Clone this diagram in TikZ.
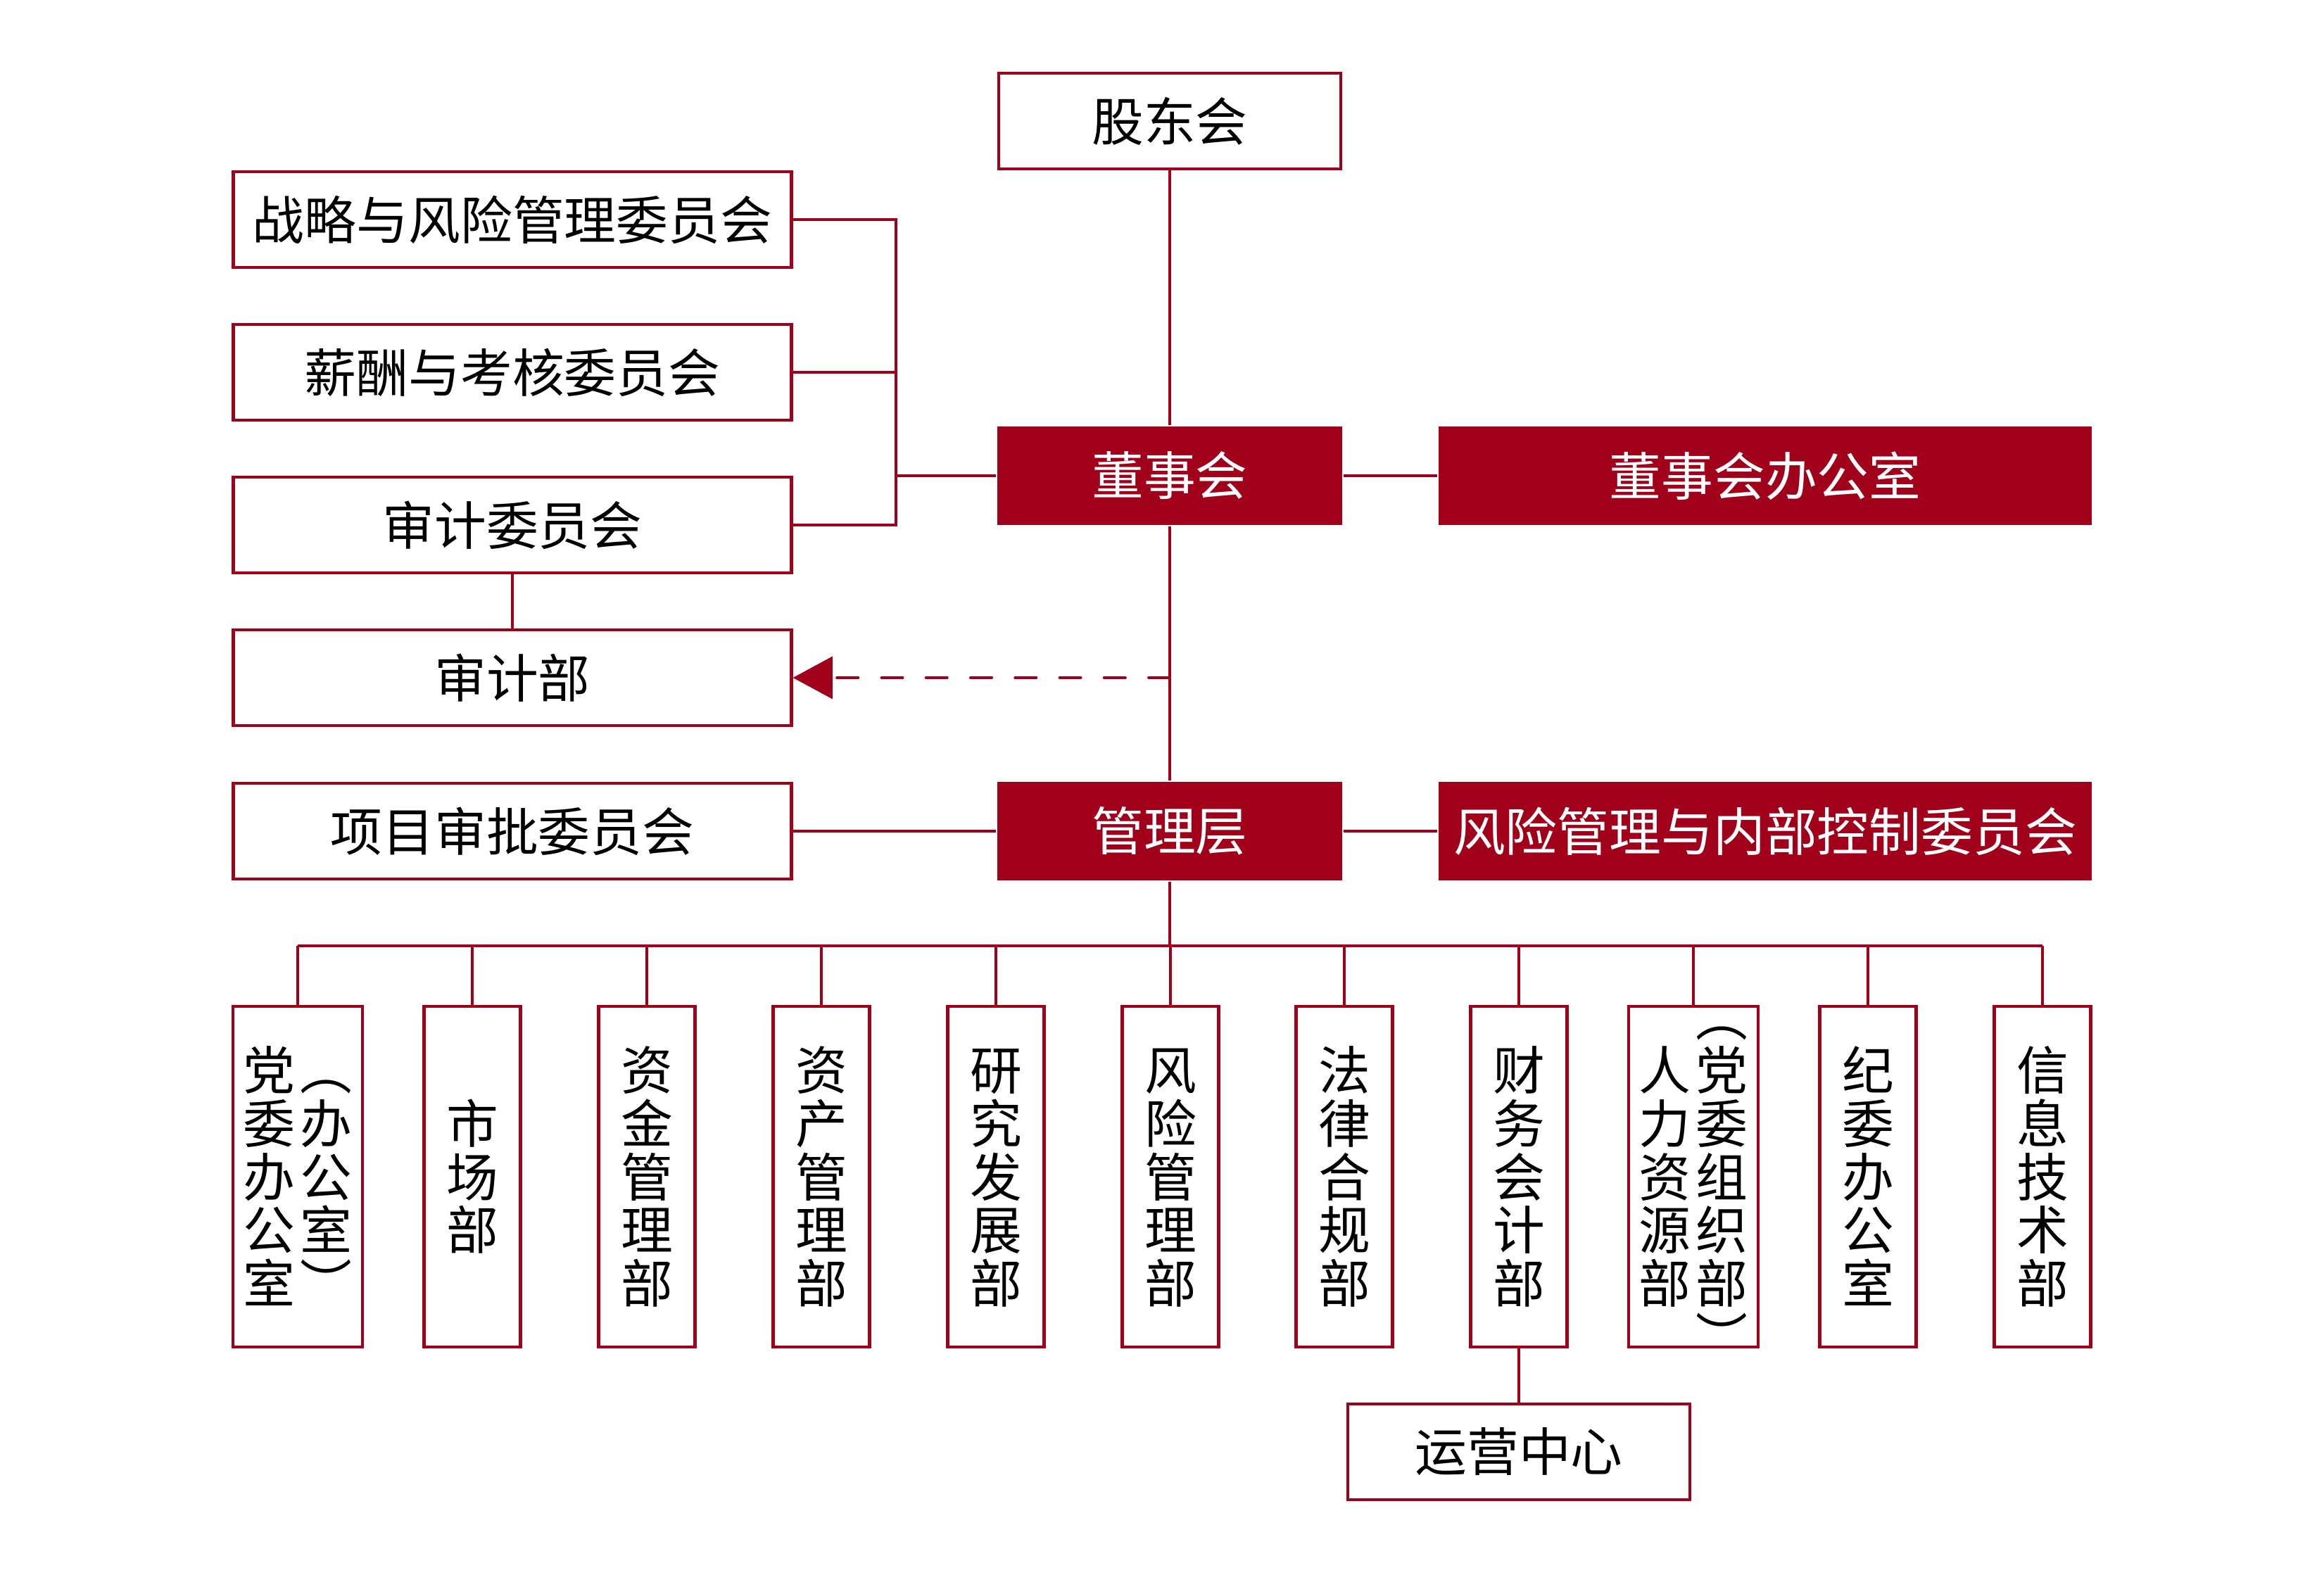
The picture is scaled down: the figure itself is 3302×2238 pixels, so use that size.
\documentclass[tikz,border=0pt]{standalone}
\usepackage{fontspec}
\newfontfamily\cjk{Noto Sans CJK SC}
\usetikzlibrary{arrows.meta}
\definecolor{crimson}{RGB}{160,0,25}
\newcommand{\cjkstrut}{\rule[-0.12em]{0pt}{1em}}
\newcommand{\vcol}[1]{\parbox[c]{1em}{\centering\cjkstrut #1\cjkstrut}}
\newcommand{\vpair}[2]{\parbox[c][40mm][c]{18mm}{\centering\vcol{#1}\hspace{2pt}\vcol{#2}}}

\begin{document}
\begin{tikzpicture}[x=0.1mm, y=-0.1mm,
      every node/.style={font=\cjk\fontsize{21}{21.6}\selectfont, inner sep=0pt, line width=1.2pt},
      unit/.style={draw=crimson, fill=white, text=black, minimum height=13.6mm},
      lead/.style={fill=crimson, text=white, minimum height=14mm},
      dept/.style={draw=crimson, fill=white, text=black, minimum width=13.7mm, minimum height=48.4mm},
      wide dept/.style={dept, minimum width=18.4mm},
      link/.style={draw=crimson, line width=0.9pt},
      dashlink/.style={draw=crimson, line width=1.2pt, dash pattern=on 8.5pt off 9.5pt, line cap=round,
        -{Triangle[length=16pt,width=17pt]}}]

      \useasboundingbox (0,0) rectangle (3302,2238);

      \node[unit, minimum width=48.6mm] (shareholders) at (1662,172) {股东会};
      \node[lead, minimum width=49mm] (board) at (1662,676) {董事会};
      \node[lead, minimum width=92.8mm] (boardoffice) at (2508,676) {董事会办公室};
      \node[lead, minimum width=49mm] (management) at (1662,1181) {管理层};
      \node[lead, minimum width=92.8mm] (riskcontrol) at (2508,1181) {风险管理与内部控制委员会};

      \node[unit, minimum width=79.3mm] (strategy) at (728,312) {战略与风险管理委员会};
      \node[unit, minimum width=79.3mm] (pay) at (728,529) {薪酬与考核委员会};
      \node[unit, minimum width=79.3mm] (auditcom) at (728,746) {审计委员会};
      \node[unit, minimum width=79.3mm] (auditdept) at (728,963) {审计部};
      \node[unit, minimum width=79.3mm] (projects) at (728,1181) {项目审批委员会};

      \node[wide dept] (party) at (423,1672) {\vpair{党\\委\\办\\公\\室}{︵\\办\\公\\室\\︶}};
      \node[dept] (market) at (671,1672) {\vcol{市\\场\\部}};
      \node[dept] (funds) at (919,1672) {\vcol{资\\金\\管\\理\\部}};
      \node[dept] (assets) at (1167,1672) {\vcol{资\\产\\管\\理\\部}};
      \node[dept] (research) at (1415,1672) {\vcol{研\\究\\发\\展\\部}};
      \node[dept] (risk) at (1663,1672) {\vcol{风\\险\\管\\理\\部}};
      \node[dept] (legal) at (1910,1672) {\vcol{法\\律\\合\\规\\部}};
      \node[dept] (finance) at (2158,1672) {\vcol{财\\务\\会\\计\\部}};
      \node[wide dept] (hr) at (2406,1672) {\vpair{人\\力\\资\\源\\部}{︵\\党\\委\\组\\织\\部\\︶}};
      \node[dept] (discipline) at (2654,1672) {\vcol{纪\\委\\办\\公\\室}};
      \node[dept] (it) at (2902,1672) {\vcol{信\\息\\技\\术\\部}};
      \node[unit, minimum width=48.6mm] (operations) at (2158,2063) {运营中心};

      \coordinate (junction) at (1273,676);
      \coordinate (bus) at (1662,1344);

      \draw[link] (shareholders) -- (board);
      \draw[link] (board) -- (management);
      \draw[link] (board) -- (boardoffice);
      \draw[link] (management) -- (riskcontrol);
      \draw[link] (management) -- (projects);
      \draw[link] (strategy.east) -| (junction) -- (board.west);
      \draw[link] (pay.east) -- (pay.east -| junction);
      \draw[link] (auditcom.east) -| (junction);
      \draw[link] (auditcom) -- (auditdept);
      \draw[dashlink] (board |- auditdept) -- (auditdept.east);

      \draw[link] (management) -- (bus);
      \draw[link] (party.north |- bus) -- (it.north |- bus);
      \foreach \dep in {party,market,funds,assets,research,risk,legal,finance,hr,discipline,it}
        \draw[link] (\dep.north) -- (\dep.north |- bus);
      \draw[link] (finance) -- (operations);
    \end{tikzpicture}
\end{document}
